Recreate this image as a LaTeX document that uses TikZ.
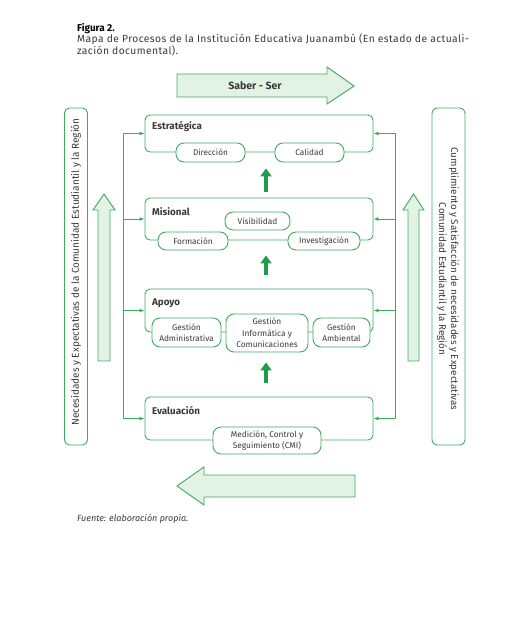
\documentclass[tikz,border=0pt]{standalone}
\usepackage{fontspec}
\setmainfont{Fira Sans}
\usetikzlibrary{arrows.meta}
\definecolor{gline}{HTML}{3DAA5E}
\definecolor{gfill}{HTML}{E2F3E6}
\definecolor{gdark}{HTML}{1E9C4A}
\definecolor{txt}{HTML}{3A3A3A}
\begin{document}
\begin{tikzpicture}[x=1pt,y=-1pt,
  every node/.style={text=txt, inner sep=0pt},
  procbox/.style={draw=gline, line width=0.9pt, rounded corners=5pt, minimum width=228pt},
  pill/.style={draw=gline, line width=0.9pt, fill=white, rounded corners=8pt, font=\fontsize{8.3}{11.5}\selectfont, align=center},
  boxtitle/.style={anchor=west, font=\fontsize{9.8}{11}\selectfont\bfseries},
  sidebox/.style={draw=gline, line width=0.9pt, rounded corners=5pt, minimum width=23pt, minimum height=337pt},
  lightarrow/.style={draw=gline, line width=0.9pt, fill=gfill, line join=miter},
  conn/.style={draw=gline, line width=0.9pt},
  connarrow/.style={conn, -{Latex[length=5pt,width=4pt]}},
  bigarrow/.style={draw=gdark, line width=4.5pt, -{Triangle[length=8pt,width=11pt]}}
]
\useasboundingbox (0,0) rectangle (519,636);

% heading
\node[anchor=base west, font=\fontsize{10}{12}\selectfont\bfseries, text=black] (fig) at (77,32) {Figura 2.};
\node[anchor=base west, font=\fontsize{10.3}{12}\selectfont\addfontfeatures{LetterSpace=4}, align=left] (cap) at (77,55)
  {Mapa de Procesos de la Instituci\'on Educativa Juanamb\'u (En estado de actuali-\\zaci\'on documental).};

% top light arrow
\draw[lightarrow] (177,74) -- (327,74) -- (327,67) -- (354,86) -- (327,104) -- (327,97) -- (177,97) -- cycle;
\node[font=\fontsize{10.5}{12}\selectfont\bfseries] (saber) at (255,86) {Saber - Ser};

% bottom light arrow
\draw[lightarrow] (355,475) -- (204,475) -- (204,467) -- (177,486) -- (204,505) -- (204,497) -- (355,497) -- cycle;

% side boxes
\node[sidebox] (lbox) at (76,276.5) {};
\node[font=\fontsize{10}{12}\selectfont, rotate=90] (ltext) at (76,272) {Necesidades y Expectativas de la Comunidad Estudiantil y la Regi\'on};
\node[sidebox, minimum width=33pt] (rbox) at (448.5,276.5) {};
\node[font=\fontsize{9.8}{12}\selectfont, rotate=-90, align=center] (rtext) at (448,279)
  {Cumplimiento y Satisfacci\'on de necesidades y Expectativas\\Comunidad Estudiantil y la Regi\'on};

% vertical light arrows
\draw[lightarrow] (98,361) -- (98,210) -- (93,210) -- (104,194) -- (115,210) -- (110,210) -- (110,361) -- cycle;
\draw[lightarrow] (408,361) -- (408,210) -- (403,210) -- (413.5,194) -- (424,210) -- (419,210) -- (419,361) -- cycle;

% process boxes
\node[procbox, minimum height=37pt] (estr) at (259,133.5) {};
\node[procbox, minimum height=42pt] (mis) at (259,219) {};
\node[procbox, minimum height=43pt] (apo) at (259,310.5) {};
\node[procbox, minimum height=43pt] (eva) at (259,418.5) {};

\node[boxtitle] (testr) at (152,126) {Estrat\'egica};
\node[boxtitle] (tmis) at (152,212) {Misional};
\node[boxtitle] (tapo) at (152,303) {Apoyo};
\node[boxtitle] (teva) at (152,410) {Evaluaci\'on};

% pills
\node[pill, minimum width=69pt, minimum height=19pt] (dir) at (210.5,152.5) {Direcci\'on};
\node[pill, minimum width=69pt, minimum height=19pt] (cal) at (309.5,152.5) {Calidad};
\node[pill, minimum width=65pt, minimum height=18pt] (vis) at (257.5,221) {Visibilidad};
\node[pill, minimum width=70pt, minimum height=18pt] (for) at (193,241) {Formaci\'on};
\node[pill, minimum width=72pt, minimum height=18pt] (inv) at (324,241) {Investigaci\'on};
\node[pill, minimum width=69pt, minimum height=29pt] (gadm) at (186.5,332.5) {Gesti\'on\\Administrativa};
\node[pill, minimum width=82pt, minimum height=38pt] (ginf) at (267,333) {Gesti\'on\\Inform\'atica y\\Comunicaciones};
\node[pill, minimum width=57pt, minimum height=29pt] (gamb) at (341.5,332.5) {Gesti\'on\\Ambiental};
\node[pill, minimum width=108pt, minimum height=27pt] (med) at (267,440.5) {Medici\'on, Control y\\Seguimiento (CMI)};

% connectors left
\coordinate (l1) at (123,133.5);
\coordinate (l4) at (123,418.5);
\draw[conn] (l1) -- (l4);
\draw[connarrow] (l1) -- (estr.west);
\draw[connarrow] (l1 |- mis.west) -- (mis.west);
\draw[connarrow] (l1 |- apo.west) -- (apo.west);
\draw[connarrow] (l4) -- (eva.west);

% connectors right
\coordinate (r1) at (395,133.5);
\coordinate (r4) at (395,418.5);
\draw[conn] (r1) -- (r4);
\draw[connarrow] (r1) -- (estr.east);
\draw[connarrow] (r1 |- mis.east) -- (mis.east);
\draw[connarrow] (r1 |- apo.east) -- (apo.east);
\draw[connarrow] (r4) -- (eva.east);

% big arrows
\draw[bigarrow] ([xshift=7pt,yshift=6pt]mis.north) -- ([xshift=7pt,yshift=-16pt]estr.south);
\draw[bigarrow] ([xshift=7pt,yshift=14pt]apo.north) -- ([xshift=7pt,yshift=-15pt]mis.south);
\draw[bigarrow] ([xshift=7pt,yshift=14pt]eva.north) -- ([xshift=7pt,yshift=-30pt]apo.south);

% source
\node[anchor=base west, font=\fontsize{9}{10}\selectfont\itshape] (src) at (77,521) {Fuente: elaboraci\'on propia.};
\end{tikzpicture}
\end{document}
